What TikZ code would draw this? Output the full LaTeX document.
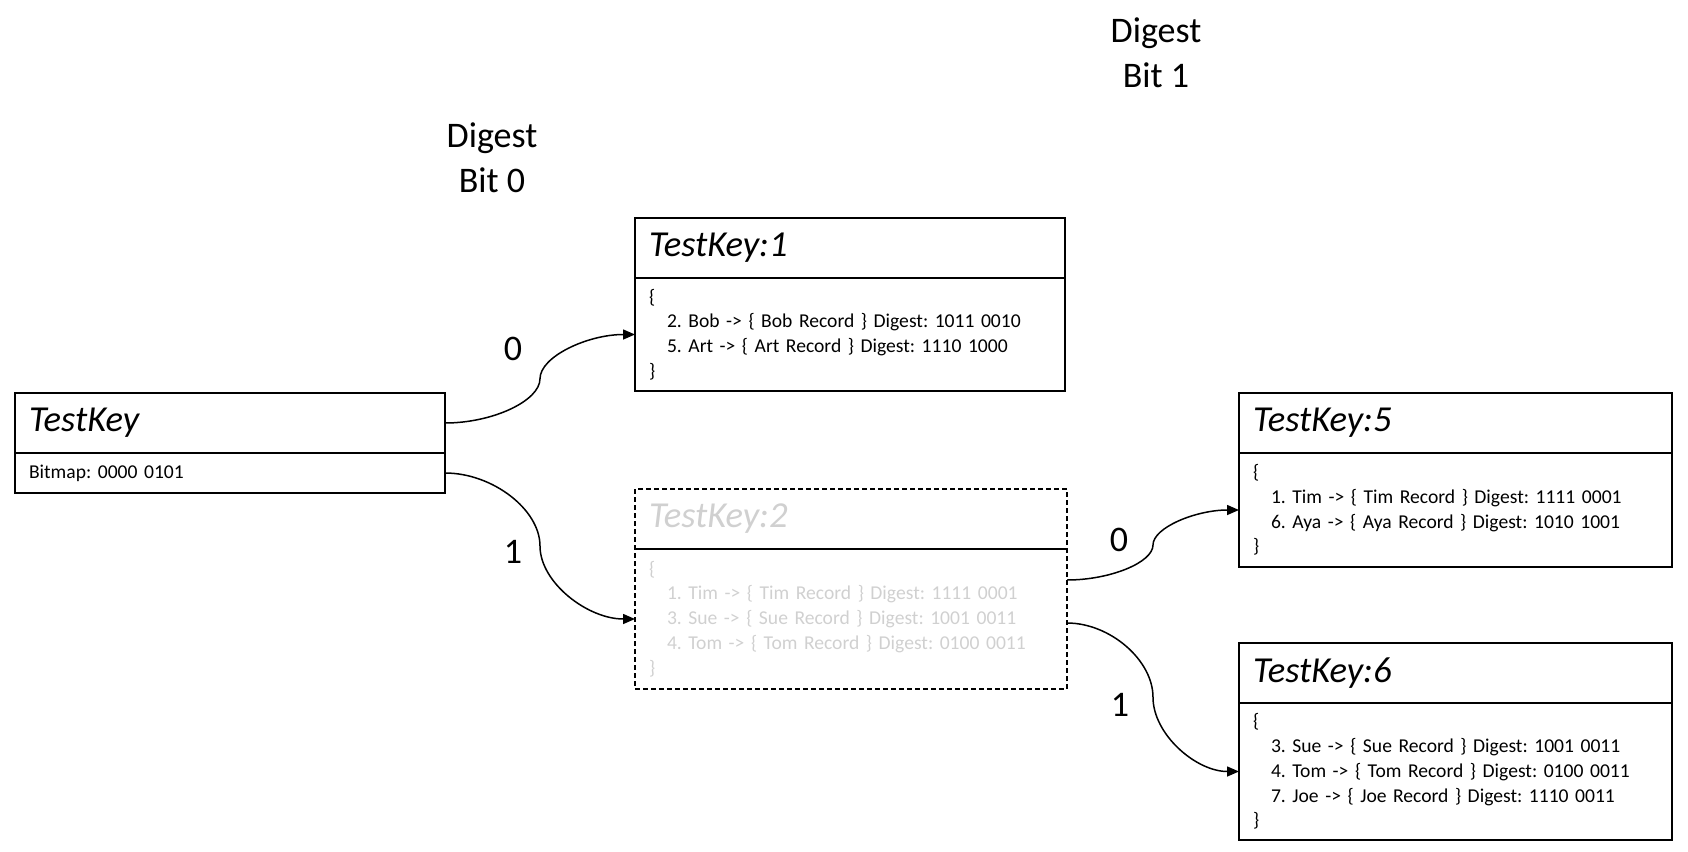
\documentclass[tikz,border=0pt]{standalone}
\usepackage{fontspec}
\setmainfont{Carlito}
\usetikzlibrary{calc,arrows.meta}
\frenchspacing

\newcommand\titlefont{\fontsize{18.3}{20}\selectfont\itshape}
\newcommand\bodyfont{\fontsize{9.8}{12.4}\selectfont}
\newcommand\labelfont{\fontsize{18}{22.5}\selectfont}
\newcommand\ind{\hspace*{9pt}}

\definecolor{faded}{HTML}{D0D0D0}

% S-shaped connector made of two Bezier halves meeting at the midpoint
\newcommand\bitlink[2]{%
  \draw[link] let \p1=#1, \p2=#2 in
    (\p1) .. controls ({\x1+0.25*(\x2-\x1)},\y1) and ({0.5*(\x1+\x2)},{\y1+0.25*(\y2-\y1)})
    .. ({0.5*(\x1+\x2)},{0.5*(\y1+\y2)})
    .. controls ({0.5*(\x1+\x2)},{\y1+0.75*(\y2-\y1)}) and ({\x1+0.75*(\x2-\x1)},\y2)
    .. (\p2);}

\tikzset{
  part/.style={draw, line width=1pt, outer sep=0pt, anchor=north west, inner xsep=7pt, inner ysep=0pt, align=left},
  keytitle/.style={part, font=\titlefont, minimum height=30pt},
  keybody/.style={part, font=\bodyfont},
  ghost/.style={draw=none, text=faded},
  link/.style={line width=0.75pt, -{Triangle[length=6pt,width=5pt]}},
  bitlabel/.style={font=\labelfont, align=center, inner sep=0pt},
}

\begin{document}
\begin{tikzpicture}[x=0.5pt,y=-0.5pt]
\useasboundingbox (0,0) rectangle (1688,852);

% root key
\node[keytitle, text width=201pt] (k0t) at (15,393) {TestKey};
\node[keybody, text width=201pt, minimum height=20pt] (k0b) at (k0t.south west) {Bitmap: 0000 0101};

% first-level children
\node[keytitle, text width=201pt] (k1t) at (635,218) {TestKey:1};
\node[keybody, text width=201pt, minimum height=56.5pt] (k1b) at (k1t.south west)
  {\{\\\ind 2. Bob -> \{ Bob Record \} Digest: 1011 0010\\\ind 5. Art -> \{ Art Record \} Digest: 1110 1000\\\}};

\node[keytitle, ghost, text width=202pt] (k2t) at (635,489) {TestKey:2};
\node[keybody, ghost, text width=202pt, minimum height=70pt] (k2b) at (k2t.south west)
  {\{\\\ind 1. Tim -> \{ Tim Record \} Digest: 1111 0001\\\ind 3. Sue -> \{ Sue Record \} Digest: 1001 0011\\\ind 4. Tom -> \{ Tom Record \} Digest: 0100 0011\\\}};
\draw[line width=1pt, dash pattern=on 2.5pt off 1.5pt] (k2t.north west) rectangle (k2b.south east);
\draw[line width=1pt] (k2b.north west) -- (k2b.north east);

% second-level children
\node[keytitle, text width=202.5pt] (k5t) at (1239,393) {TestKey:5};
\node[keybody, text width=202.5pt, minimum height=57pt] (k5b) at (k5t.south west)
  {\{\\\ind 1. Tim -> \{ Tim Record \} Digest: 1111 0001\\\ind 6. Aya -> \{ Aya Record \} Digest: 1010 1001\\\}};

\node[keytitle, text width=202.5pt] (k6t) at (1239,643) {TestKey:6};
\node[keybody, text width=202.5pt, minimum height=68.5pt] (k6b) at (k6t.south west)
  {\{\\\ind 3. Sue -> \{ Sue Record \} Digest: 1001 0011\\\ind 4. Tom -> \{ Tom Record \} Digest: 0100 0011\\\ind 7. Joe -> \{ Joe Record \} Digest: 1110 0011\\\}};

% connectors
\bitlink{(k0t.east)}{(k1b.west)}
\bitlink{(k0b.east)}{(k2b.west)}
\bitlink{($(k2b.north east)+(0,31)$)}{(k5b.west)}
\bitlink{($(k2b.north east)+(0,74)$)}{(k6b.west)}

% bit labels
\node[bitlabel] (b0a) at (513,349) {0};
\node[bitlabel] (b1a) at (513,552) {1};
\node[bitlabel] (b0b) at (1119,540) {0};
\node[bitlabel] (b1b) at (1120,705) {1};

\node[bitlabel] (d0) at (492,158) {Digest\\Bit 0};
\node[bitlabel] (d1) at (1156,53) {Digest\\Bit 1};
\end{tikzpicture}
\end{document}
